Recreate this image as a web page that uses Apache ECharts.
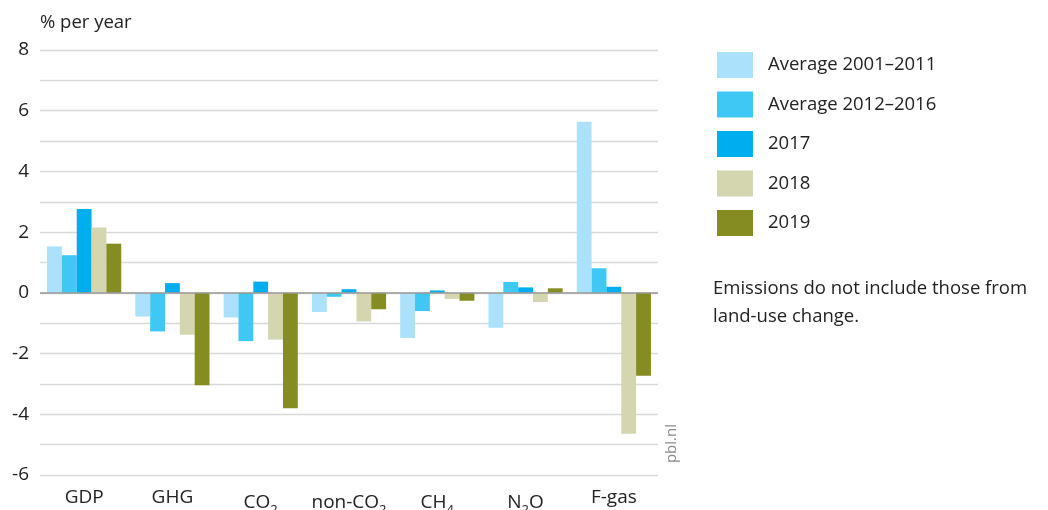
<!DOCTYPE html>
<html>
<head>
<meta charset="utf-8">
<script src="https://cdn.jsdelivr.net/npm/echarts@6/dist/echarts.min.js"></script>
<style>
  html, body { margin: 0; padding: 0; background: #fff; }
  #chart { width: 1048px; height: 510px; }
</style>
</head>
<body>
<div id="chart"></div>
<script>
const categories = ['GDP', 'GHG', 'CO{sub|2}', 'non-CO{sub|2}', 'CH{sub|4}', 'N{sub|2}O', 'F-gas']
const seriesNames = ['Average 2001–2011', 'Average 2012–2016', '2017', '2018', '2019']
const avg2001 = [1.53, -0.78, -0.81, -0.63, -1.49, -1.15, 5.64]
const avg2012 = [1.24, -1.27, -1.59, -0.13, -0.60, 0.36, 0.81]
const y2017 = [2.76, 0.32, 0.37, 0.12, 0.08, 0.18, 0.20]
const y2018 = [2.15, -1.38, -1.54, -0.94, -0.20, -0.30, -4.64]
const y2019 = [1.62, -3.04, -3.80, -0.54, -0.26, 0.15, -2.73]
const colors = ['#abe1fa', '#3fc8f4', '#00aeef', '#d3d6af', '#848c22']

const font = '"Open Sans", "Noto Sans", sans-serif'
const chart = echarts.init(document.getElementById('chart'))

const allSeries = [avg2001, avg2012, y2017, y2018, y2019].map((vals, i) => ({
  name: seriesNames[i],
  type: 'bar',
  data: vals,
  barGap: '0%',
  barCategoryGap: '16%',
  itemStyle: { color: colors[i] },
  emphasis: { disabled: true }
}))

chart.setOption({
  animation: false,
  textStyle: { fontFamily: font },
  grid: { left: 40, right: 390, top: 50, bottom: 35, containLabel: false, outerBoundsMode: 'none' },
  legend: {
    orient: 'vertical',
    left: 712, top: 47,
    itemWidth: 36, itemHeight: 26, itemGap: 13.5,
    icon: 'rect',
    selectedMode: false,
    textStyle: { fontSize: 18.5, color: '#222', padding: [0, 0, 0, 10], fontFamily: font },
    data: seriesNames
  },
  xAxis: {
    type: 'category',
    data: categories,
    axisLine: { show: false },
    axisTick: { show: false },
    axisLabel: {
      interval: 0,
      margin: 13,
      fontSize: 19, color: '#222',
      rich: {
        sub: { fontSize: 13, color: '#222', verticalAlign: 'bottom', padding: [16, 0, 0, 0] }
      }
    }
  },
  yAxis: {
    type: 'value',
    min: -6, max: 8, interval: 1,
    name: '% per year',
    nameLocation: 'end',
    nameGap: 18,
    nameTextStyle: { fontSize: 18.5, color: '#222', align: 'left' },
    axisLine: { show: false },
    axisTick: { show: false },
    axisLabel: {
      fontSize: 19, color: '#222', margin: 11,
      formatter: v => (v % 2 === 0 ? String(v) : '')
    },
    splitLine: { lineStyle: { color: '#d9d9d9', width: 1.3 } }
  },
  graphic: [
    {
      type: 'text', left: 713, top: 275,
      style: {
        text: 'Emissions do not include those from\nland-use change.',
        fontSize: 18.5, lineHeight: 28, fill: '#222', fontFamily: font
      }
    },
    {
      type: 'text', left: 664, top: 424, rotation: Math.PI / 2,
      style: { text: 'pbl.nl', fontSize: 15, fill: '#8a8a8a', fontFamily: font }
    },
    {
      type: 'line', shape: { x1: 40, y1: 293, x2: 658, y2: 293 },
      style: { stroke: '#999', lineWidth: 1.5 }, z: 10
    }
  ],
  series: allSeries
})
</script>
</body>
</html>
